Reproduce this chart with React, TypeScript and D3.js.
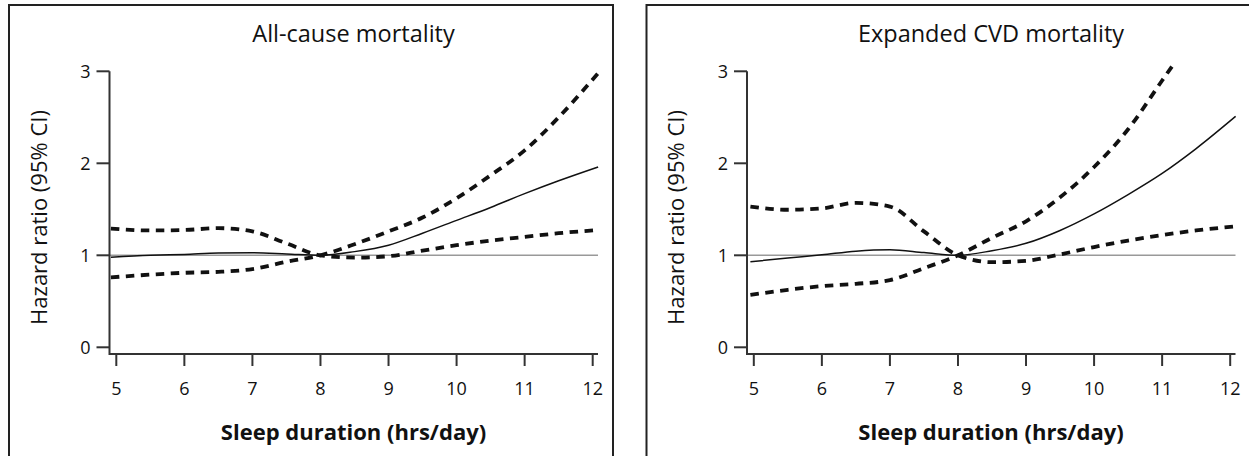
import React from "react";
import * as d3 from "d3";

const panelTitles = ["All-cause mortality", "Expanded CVD mortality"];
const xTicks = [5, 6, 7, 8, 9, 10, 11, 12];
const yTicks = [0, 1, 2, 3];
const xLabel = "Sleep duration (hrs/day)";
const yLabel = "Hazard ratio (95% CI)";

// All-cause mortality
const allX = [4.92, 5.5, 6, 6.5, 7, 7.5, 8, 8.5, 9, 9.5, 10, 10.5, 11, 11.5, 12.08];
const allHR = [0.98, 1.0, 1.01, 1.025, 1.028, 1.015, 1.0, 1.04, 1.11, 1.24, 1.38, 1.52, 1.67, 1.81, 1.96];
const allCIa = [1.29, 1.27, 1.275, 1.295, 1.26, 1.13, 1.0, 0.975, 0.99, 1.05, 1.11, 1.16, 1.2, 1.24, 1.275];
const allCIb = [0.76, 0.79, 0.81, 0.82, 0.85, 0.93, 1.0, 1.12, 1.26, 1.41, 1.62, 1.87, 2.14, 2.5, 2.98];

// Expanded CVD mortality
const cvdX = [4.95, 5.5, 6, 6.5, 7, 7.5, 8, 8.5, 9, 9.5, 10, 10.5, 11, 11.5, 12.08];
const cvdHR = [0.93, 0.97, 1.005, 1.045, 1.06, 1.03, 1.0, 1.05, 1.13, 1.27, 1.45, 1.66, 1.89, 2.16, 2.51];
const cvdCIa = [1.53, 1.495, 1.51, 1.57, 1.53, 1.26, 1.0, 0.925, 0.94, 1.01, 1.09, 1.16, 1.22, 1.27, 1.315];
const cvdCIbX = [4.95, 5.5, 6, 6.5, 7, 7.5, 8, 8.5, 9, 9.5, 10, 10.5, 11, 11.18];
const cvdCIb = [0.57, 0.625, 0.665, 0.69, 0.73, 0.86, 1.0, 1.19, 1.37, 1.63, 1.96, 2.37, 2.9, 3.09];

const panels = [
  { title: panelTitles[0], hr: [allX, allHR], a: [allX, allCIa], b: [allX, allCIb] },
  { title: panelTitles[1], hr: [cvdX, cvdHR], a: [cvdX, cvdCIa], b: [cvdCIbX, cvdCIb] },
];

const FONT = "'Open Sans', 'DejaVu Sans', sans-serif";

function Panel({ p, dx }: { p: any; dx: number }) {
  const x = d3.scaleLinear().domain([4.9, 12.1]).range([109.5, 599.5]);
  const y = d3.scaleLinear().domain([0, 3]).range([347.3, 71.3]);
  const line = d3
    .line<[number, number]>()
    .x((d) => x(d[0]))
    .y((d) => y(d[1]))
    .curve(d3.curveMonotoneX);
  const pts = (arr: number[][]) => arr[0].map((v, i) => [v, arr[1][i]] as [number, number]);
  const axisY = 354;
  const x0 = x.range()[0];
  const x1 = x.range()[1];
  const cx = 353.5;
  return (
    <g transform={`translate(${dx},0)`}>
      <rect x={9} y={5} width={604} height={470} fill="none" stroke="#222" strokeWidth={2} />
      <text x={cx} y={42} textAnchor="middle" fontSize={23.5} fontFamily={FONT} fill="#111">
        {p.title}
      </text>
      <line x1={x0} x2={x1 - 1.5} y1={y(1)} y2={y(1)} stroke="#999" strokeWidth={1.5} />
      <path d={line(pts(p.hr)) || ""} fill="none" stroke="#111" strokeWidth={1.5} />
      <path d={line(pts(p.a)) || ""} fill="none" stroke="#111" strokeWidth={3.8} strokeDasharray="8.5 6.5" />
      <path d={line(pts(p.b)) || ""} fill="none" stroke="#111" strokeWidth={3.8} strokeDasharray="8.5 6.5" />
      <line x1={x0} x2={x0} y1={y(3)} y2={axisY + 1} stroke="#333" strokeWidth={2} />
      {yTicks.map((t) => (
        <g key={t}>
          <line x1={x0 - 13} x2={x0} y1={y(t)} y2={y(t)} stroke="#333" strokeWidth={2} />
          <text x={90.5} y={y(t) + 6.2} textAnchor="end" fontSize={18} fontFamily={FONT} fill="#111">
            {t}
          </text>
        </g>
      ))}
      <line x1={x0} x2={x1 - 1.5} y1={axisY} y2={axisY} stroke="#333" strokeWidth={2} />
      {xTicks.map((t) => (
        <g key={t}>
          <line x1={x(t)} x2={x(t)} y1={axisY} y2={axisY + 12} stroke="#333" strokeWidth={2} />
          <text x={x(t)} y={395} textAnchor="middle" fontSize={18} fontFamily={FONT} fill="#111">
            {t}
          </text>
        </g>
      ))}
      <text x={cx} y={440} textAnchor="middle" fontSize={22} fontWeight="bold" fontFamily={FONT} fill="#111">
        {xLabel}
      </text>
      <text
        transform={`translate(46.5,217.5) rotate(-90)`}
        textAnchor="middle"
        fontSize={22}
        fontFamily={FONT}
        fill="#111"
      >
        {yLabel}
      </text>
    </g>
  );
}

export default function App() {
  return (
    <svg
      width={1249}
      height={456}
      style={{ position: "fixed", left: 0, top: 0, background: "#fff", display: "block" }}
    >
      <rect width={1249} height={456} fill="#fff" />
      {panels.map((p, i) => (
        <Panel key={i} p={p} dx={i * 637.5} />
      ))}
    </svg>
  );
}
